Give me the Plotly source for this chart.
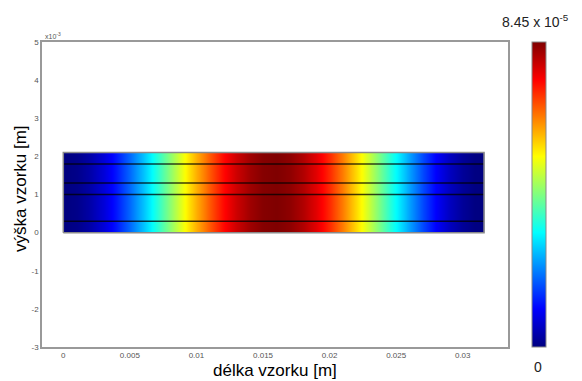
import plotly.graph_objects as go

# sample positions along the specimen length [m]
x_pos = [0.000, 0.001, 0.002, 0.003, 0.004, 0.005, 0.006, 0.007, 0.008, 0.009,
         0.010, 0.011, 0.012, 0.013, 0.014, 0.015, 0.016, 0.017, 0.018, 0.019,
         0.020, 0.021, 0.022, 0.023, 0.024, 0.025, 0.026, 0.027, 0.028, 0.029,
         0.030, 0.031, 0.0316]
z_vals_e5 = [0.00, 0.08, 0.33, 0.73, 1.27, 1.92, 2.66, 3.47, 4.31, 5.15,
             5.94, 6.67, 7.30, 7.81, 8.18, 8.40, 8.45, 8.33, 8.05, 7.62,
             7.04, 6.35, 5.58, 4.78, 3.95, 3.14, 2.37, 1.66, 1.05, 0.55,
             0.20, 0.02, 0.00]
z_max = 8.45e-5
# specimen height and internal layer boundaries [m]
y_bottom = 0.0
y_top = 0.0021
layer_lines = [0.0003, 0.0010, 0.0013, 0.0018]
x_ticks = [0, 0.005, 0.01, 0.015, 0.02, 0.025, 0.03]
x_ticktext = ["0", "0.005", "0.01", "0.015", "0.02", "0.025", "0.03"]
y_ticks_e3 = [-3, -2, -1, 0, 1, 2, 3, 4, 5]

jet = [[0.0, "rgb(0,0,128)"], [0.125, "rgb(0,0,255)"], [0.375, "rgb(0,255,255)"],
       [0.625, "rgb(255,255,0)"], [0.875, "rgb(255,0,0)"], [1.0, "rgb(128,0,0)"]]

z_row = [v * 1e-5 for v in z_vals_e5]
x_edges = [x_pos[0]] + [(a + b) / 2 for a, b in zip(x_pos[:-1], x_pos[1:])] + [x_pos[-1]]

W, H = 574, 373
L, T, R, B = 34, 34, 74, 34
pw, ph = W - L - R, H - T - B

def px(sx):  # screen x -> paper x (page offset 8px)
    return (sx - 8 - L) / pw

def py(sy):  # screen y -> paper y
    return (H - (sy - 8) - B) / ph

fig = go.Figure()
fig.add_trace(go.Heatmap(
    x=x_edges, y=[y_bottom, y_top], z=[z_row],
    zmin=0, zmax=z_max, colorscale=jet, zsmooth="best", hoverinfo="skip",
    colorbar=dict(thickness=14, len=1, lenmode="fraction", y=0.5, yanchor="middle",
                  x=px(532), xanchor="left", xpad=0, ypad=0,
                  showticklabels=False, ticks="", outlinecolor="#888", outlinewidth=1),
))
x0, x1 = x_pos[0], x_pos[-1]
for yl in layer_lines:
    fig.add_trace(go.Scatter(x=[x0, x1], y=[yl, yl], mode="lines",
                             line=dict(color="rgba(0,0,0,0.75)", width=1.5),
                             hoverinfo="skip", showlegend=False))
fig.add_trace(go.Scatter(x=[x0, x1, x1, x0, x0], y=[y_bottom, y_bottom, y_top, y_top, y_bottom],
                         mode="lines", line=dict(color="#8a8a8a", width=1.5),
                         hoverinfo="skip", showlegend=False))

tickfont = dict(family="Liberation Sans, Arial, sans-serif", size=8, color="#555")
titlefont = dict(family="Liberation Sans, Arial, sans-serif", size=17, color="black")
fig.update_layout(
    width=W, height=H,
    margin=dict(l=L, r=R, t=T, b=B, autoexpand=False),
    paper_bgcolor="white", plot_bgcolor="white",
    showlegend=False,
    xaxis=dict(range=[-0.0016, 0.0334], tickvals=x_ticks, ticktext=x_ticktext,
               showgrid=False, zeroline=False, showline=True, mirror=True,
               linecolor="#999", linewidth=1.5, ticks="", tickfont=tickfont),
    yaxis=dict(range=[-0.003, 0.005], tickvals=[v * 1e-3 for v in y_ticks_e3],
               ticktext=[str(v) for v in y_ticks_e3],
               showgrid=False, zeroline=False, showline=True, mirror=True,
               linecolor="#999", linewidth=1.5, ticks="", tickfont=tickfont),
    annotations=[
        dict(text="x10<sup>-3</sup>", x=0, y=1, xref="paper", yref="paper",
             xanchor="left", yanchor="bottom", showarrow=False, xshift=1,
             font=dict(family="Liberation Sans, Arial, sans-serif", size=7, color="#555")),
        dict(text="délka vzorku [m]", x=px(275), y=py(370), xref="paper", yref="paper",
             xanchor="center", yanchor="middle", showarrow=False, font=titlefont),
        dict(text="výška vzorku [m]", x=px(20), y=py(189), xref="paper", yref="paper",
             xanchor="center", yanchor="middle", showarrow=False, textangle=-90, font=titlefont),
        dict(text="8.45 x 10<sup>-5</sup>", x=px(535), y=py(21), xref="paper", yref="paper",
             xanchor="center", yanchor="middle", showarrow=False,
             font=dict(family="Liberation Sans, Arial, sans-serif", size=14, color="#222")),
        dict(text="0", x=px(538), y=py(367), xref="paper", yref="paper",
             xanchor="center", yanchor="middle", showarrow=False,
             font=dict(family="Liberation Sans, Arial, sans-serif", size=14, color="#222")),
    ],
)
fig.write_html("out.html")
